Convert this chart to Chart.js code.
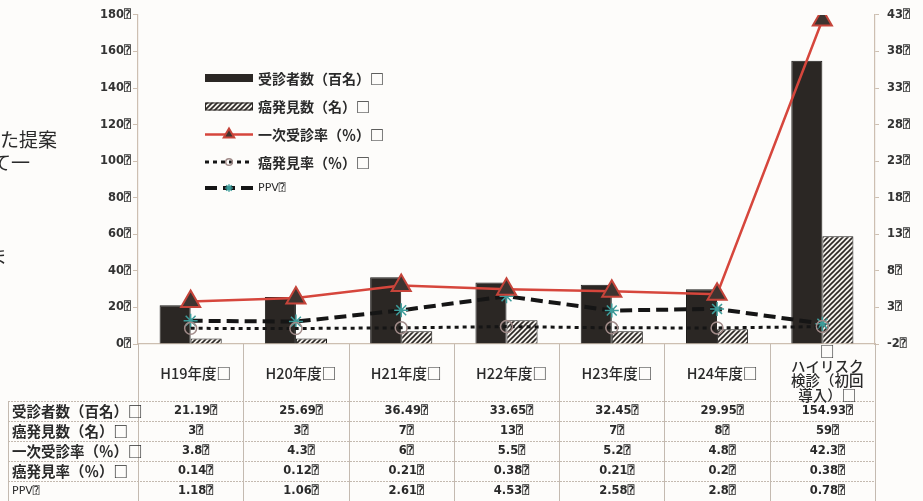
<!DOCTYPE html>
<html>
<head>
<meta charset="utf-8">
<style>
  html, body { margin: 0; padding: 0; background: #fdfcfa; }
  #wrap { position: relative; width: 923px; height: 501px; overflow: hidden; }
  #chart { position: absolute; left: 0; top: 0; }
  .side { position: absolute; left: 0; font-family: "Noto Sans CJK JP"; font-size: 19px; color: #2a2a2a; line-height: 1; white-space: nowrap; }
</style>
<script src="https://cdn.jsdelivr.net/npm/chart.js@4.4.1/dist/chart.umd.min.js"></script>
</head>
<body>
<div id="wrap">
  <canvas id="chart" width="923" height="501"></canvas>
  <div class="side" style="top:129px;">た提案</div>
  <div class="side" style="top:152px;left:-8px;">て一</div>
  <div class="side" style="top:246px;left:-12px;">ま</div>
</div>
<script>
// categories (x axis / table columns)
const categories = ['H19年度□', 'H20年度□', 'H21年度□', 'H22年度□', 'H23年度□', 'H24年度□',
  ['□', 'ハイリスク', '検診（初回', '導入）□']];

// series
const seriesNames = ['受診者数（百名）□', '癌発見数（名）□', '一次受診率（％）□', '癌発見率（％）□', 'PPV⍰'];
const examinees    = [21.19, 25.69, 36.49, 33.65, 32.45, 29.95, 154.93];
const cancersFound = [3, 3, 7, 13, 7, 8, 59];
const firstRate    = [3.8, 4.3, 6, 5.5, 5.2, 4.8, 42.3];
const detectRate   = [0.14, 0.12, 0.21, 0.38, 0.21, 0.2, 0.38];
const ppv          = [1.18, 1.06, 2.61, 4.53, 2.58, 2.8, 0.78];

// tick labels
const leftTicks  = [0, 20, 40, 60, 80, 100, 120, 140, 160, 180];
const rightTicks = [-2, 3, 8, 13, 18, 23, 28, 33, 38, 43];
const tofu = '⍰';

const ctx = document.getElementById('chart').getContext('2d');

const DARK = '#2b2724';
const RED = '#d6463c';
const TEAL = '#3c9c9a';
const AXIS = '#cdbfb1';
const TEXT = '#2a2a2a';
const NUM_FONT = '"DejaVu Sans", "DejaVu Sans Mono", sans-serif';
const JP_FONT = '"Noto Sans CJK JP", sans-serif';

function hatchPattern() {
  const s = 5;
  const c = document.createElement('canvas');
  c.width = s; c.height = s;
  const g = c.getContext('2d');
  g.fillStyle = '#f3f0eb';
  g.fillRect(0, 0, s, s);
  g.strokeStyle = DARK;
  g.lineWidth = 1.6;
  g.beginPath();
  g.moveTo(-1, s + 1); g.lineTo(s + 1, -1);
  g.moveTo(-1, 1); g.lineTo(1, -1);
  g.moveTo(s - 1, s + 1); g.lineTo(s + 1, s - 1);
  g.stroke();
  return ctx.createPattern(c, 'repeat');
}
const HATCH = hatchPattern();

// data table + category header drawn under the plot
const tablePlugin = {
  id: 'dataTable',
  afterDraw(chart) {
    const g = chart.ctx;
    const x = chart.scales.x;
    const area = chart.chartArea;
    const n = categories.length;
    const cw = (area.right - area.left) / n;
    const top = area.bottom;
    const rowTop = 401;
    const rowH = 20;
    const rows = [examinees, cancersFound, firstRate, detectRate, ppv];
    const tableLeft = 8;
    const bottom = rowTop + rowH * rows.length;

    g.save();
    g.strokeStyle = '#c4bab0';
    g.lineWidth = 1;
    // column separators
    for (let i = 0; i <= n; i++) {
      const xx = Math.round(area.left + i * cw) + 0.5;
      g.beginPath(); g.moveTo(xx, top); g.lineTo(xx, bottom); g.stroke();
    }
    g.beginPath(); g.moveTo(tableLeft + 0.5, rowTop); g.lineTo(tableLeft + 0.5, bottom); g.stroke();
    // row separators
    g.setLineDash([2, 1]);
    for (let r = 0; r <= rows.length; r++) {
      const yy = Math.round(rowTop + r * rowH) + 0.5;
      g.beginPath(); g.moveTo(tableLeft, yy); g.lineTo(area.right, yy); g.stroke();
    }
    g.setLineDash([]);

    // header labels
    g.fillStyle = TEXT;
    g.textAlign = 'center';
    g.textBaseline = 'middle';
    g.font = '500 14.5px ' + JP_FONT;
    categories.forEach((lab, i) => {
      const cx = x.getPixelForValue(i) + 5;
      const lines = Array.isArray(lab) ? lab : [lab];
      const lh = 14.5;
      const y0 = (top + rowTop) / 2 - (lines.length - 1) * lh / 2 + 1;
      lines.forEach((t, k) => g.fillText(t, cx, y0 + k * lh));
    });

    // row labels
    g.textAlign = 'left';
    rows.forEach((_, r) => {
      const cy = rowTop + r * rowH + rowH / 2 + 0.5;
      if (r === 4) {
        g.font = '11px ' + NUM_FONT;
      } else {
        g.font = 'bold 14.5px ' + JP_FONT;
      }
      g.fillText(seriesNames[r], 12, cy);
    });

    // values
    g.textAlign = 'center';
    g.font = 'bold 11.5px ' + NUM_FONT;
    rows.forEach((vals, r) => {
      const cy = rowTop + r * rowH + rowH / 2 + 0.5;
      vals.forEach((v, i) => {
        g.fillText(String(v) + tofu, x.getPixelForValue(i) + 5, cy);
      });
    });
    g.restore();
  }
};

// legend box inside the plot area
const legendPlugin = {
  id: 'insideLegend',
  afterDraw(chart) {
    const g = chart.ctx;
    const ds = chart.data.datasets;
    const x0 = 205, x1 = 253, tx = 258;
    const ys = [78, 106.5, 134.5, 162, 188];
    g.save();
    ys.forEach((y, i) => {
      const d = ds[i];
      if (d.type === 'bar') {
        g.fillStyle = d.backgroundColor;
        g.fillRect(x0, y - 4, x1 - x0, 8);
        g.strokeStyle = DARK; g.lineWidth = 1;
        g.strokeRect(x0 + 0.5, y - 3.5, x1 - x0 - 1, 7);
      } else {
        g.strokeStyle = d.borderColor;
        g.lineWidth = d.borderWidth;
        g.setLineDash(d.borderDash || []);
        g.beginPath(); g.moveTo(x0, y); g.lineTo(x1, y); g.stroke();
        g.setLineDash([]);
        g.fillStyle = d.pointBackgroundColor;
        g.strokeStyle = d.pointBorderColor;
        g.lineWidth = d.pointBorderWidth;
        Chart.helpers.drawPoint(g, {
          pointStyle: d.pointStyle, radius: d.pointRadius * 0.55, rotation: 0, borderWidth: d.pointBorderWidth
        }, (x0 + x1) / 2, y);
      }
      g.fillStyle = TEXT;
      g.textAlign = 'left';
      g.textBaseline = 'middle';
      g.font = i === 4 ? '11px ' + NUM_FONT : 'bold 14px ' + JP_FONT;
      g.fillText(seriesNames[i], tx, y + 0.5);
    });
    g.restore();
  }
};

const tickFont = { family: NUM_FONT, size: 11.5, weight: 'bold' };

new Chart(ctx, {
  data: {
    labels: categories,
    datasets: [
      {
        type: 'bar', label: seriesNames[0], data: examinees, yAxisID: 'y', order: 2,
        backgroundColor: DARK, borderColor: '#1c1a18', borderWidth: 1,
        categoryPercentage: 0.59, barPercentage: 1
      },
      {
        type: 'bar', label: seriesNames[1], data: cancersFound, yAxisID: 'y', order: 2,
        backgroundColor: HATCH, borderColor: '#1c1a18', borderWidth: 1,
        categoryPercentage: 0.59, barPercentage: 1
      },
      {
        type: 'line', label: seriesNames[2], data: firstRate, yAxisID: 'y1', order: 1,
        borderColor: RED, borderWidth: 2.5, tension: 0,
        pointStyle: 'triangle', pointRadius: 11, pointBackgroundColor: '#3e3430',
        pointBorderColor: '#c5443a', pointBorderWidth: 2
      },
      {
        type: 'line', label: seriesNames[3], data: detectRate, yAxisID: 'y1', order: 1,
        borderColor: '#151515', borderWidth: 3, borderDash: [4, 4], tension: 0,
        pointStyle: 'circle', pointRadius: 6, pointBackgroundColor: 'rgba(0,0,0,0)',
        pointBorderColor: '#a08a88', pointBorderWidth: 1.5
      },
      {
        type: 'line', label: seriesNames[4], data: ppv, yAxisID: 'y1', order: 1,
        borderColor: '#151515', borderWidth: 4, borderDash: [12, 6], tension: 0,
        pointStyle: 'star', pointRadius: 7, pointBackgroundColor: TEAL,
        pointBorderColor: TEAL, pointBorderWidth: 1.5
      }
    ]
  },
  options: {
    responsive: false,
    animation: false,
    devicePixelRatio: 1,
    layout: { padding: { top: 12, left: 0, right: 0, bottom: 0 } },
    plugins: { legend: { display: false }, tooltip: { enabled: false } },
    scales: {
      x: {
        type: 'category', offset: true,
        ticks: { display: false },
        grid: { display: false },
        border: { color: AXIS, width: 1.2 },
        afterFit(s) { s.height = 157; }
      },
      y: {
        position: 'left', min: 0, max: 180,
        afterBuildTicks(s) { s.ticks = leftTicks.map(v => ({ value: v })); },
        ticks: { callback: v => v + tofu, font: tickFont, color: '#333', padding: 2 },
        grid: { drawOnChartArea: false, tickLength: 5, color: AXIS },
        border: { color: AXIS, width: 1.2 },
        afterFit(s) { s.width = 138; }
      },
      y1: {
        position: 'right', min: -2, max: 43,
        afterBuildTicks(s) { s.ticks = rightTicks.map(v => ({ value: v })); },
        ticks: { callback: v => v + tofu, font: tickFont, color: '#333', padding: 8 },
        grid: { drawOnChartArea: false, tickLength: 4, color: AXIS },
        border: { color: AXIS, width: 1.2 },
        afterFit(s) { s.width = 48; }
      }
    }
  },
  plugins: [tablePlugin, legendPlugin]
});
</script>
</body>
</html>
